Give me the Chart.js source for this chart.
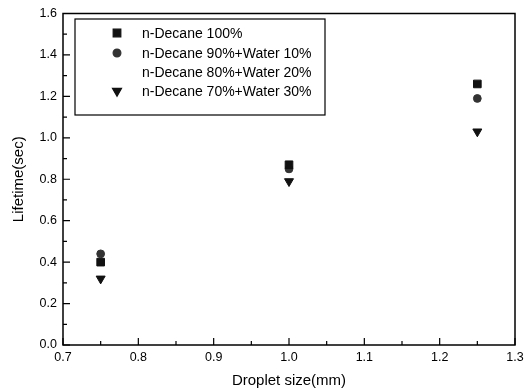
<!DOCTYPE html>
<html>
<head>
<meta charset="utf-8">
<script src="https://cdn.jsdelivr.net/npm/chart.js@4.4.0/dist/chart.umd.min.js"></script>
<style>
html,body{margin:0;padding:0;background:#fff;}
#wrap{width:532px;height:390px;position:relative;}
</style>
</head>
<body>
<div id="wrap"><canvas id="c" width="532" height="390"></canvas></div>
<script>
const dropletSizes = [0.75, 1.0, 1.25];
const decane100 = [0.40, 0.87, 1.26];
const decane90 = [0.44, 0.85, 1.19];
const decane80 = [null, null, null];
const decane70 = [0.32, 0.79, 1.03];
const seriesNames = ['n-Decane 100%', 'n-Decane 90%+Water 10%', 'n-Decane 80%+Water 20%', 'n-Decane 70%+Water 30%'];
const xTicks = [0.7, 0.8, 0.9, 1.0, 1.1, 1.2, 1.3];
const yTicks = [0.0, 0.2, 0.4, 0.6, 0.8, 1.0, 1.2, 1.4, 1.6];

const FONT = '"Liberation Sans", Arial, sans-serif';
const toPts = arr => dropletSizes.map((x, i) => ({x: x, y: arr[i]})).filter(p => p.y !== null);

const styles = [
  {pointStyle: 'rect', radius: 5.4, rotation: 0, color: '#111'},
  {pointStyle: 'circle', radius: 3.9, rotation: 0, color: '#333'},
  {pointStyle: false, radius: 0, rotation: 0, color: 'rgba(0,0,0,0)'},
  {pointStyle: 'triangle', radius: 5.2, rotation: 180, color: '#111'}
];
const allData = [decane100, decane90, decane80, decane70];

const frameTicks = {
  id: 'frameTicks',
  afterDraw(chart) {
    const ctx = chart.ctx, a = chart.chartArea;
    const xs = chart.scales.x, ys = chart.scales.y;
    ctx.save();
    ctx.strokeStyle = '#000';
    ctx.lineWidth = 1.5;
    ctx.strokeRect(a.left, a.top, a.right - a.left, a.bottom - a.top);
    ctx.lineWidth = 1.2;
    ctx.beginPath();
    for (let i = 0; i < xTicks.length; i++) {
      const px = xs.getPixelForValue(xTicks[i]);
      ctx.moveTo(px, a.bottom); ctx.lineTo(px, a.bottom - 7);
      if (i < xTicks.length - 1) {
        const mx = xs.getPixelForValue((xTicks[i] + xTicks[i + 1]) / 2);
        ctx.moveTo(mx, a.bottom); ctx.lineTo(mx, a.bottom - 4);
      }
    }
    for (let i = 0; i < yTicks.length; i++) {
      const py = ys.getPixelForValue(yTicks[i]);
      ctx.moveTo(a.left, py); ctx.lineTo(a.left + 7, py);
      if (i < yTicks.length - 1) {
        const my = ys.getPixelForValue((yTicks[i] + yTicks[i + 1]) / 2);
        ctx.moveTo(a.left, my); ctx.lineTo(a.left + 4, my);
      }
    }
    ctx.stroke();

    // legend box
    const bx = 75, by = 19, bw = 250, bh = 96;
    ctx.lineWidth = 1.2;
    ctx.strokeRect(bx, by, bw, bh);
    ctx.font = '14px ' + FONT;
    ctx.fillStyle = '#000';
    ctx.textBaseline = 'middle';
    ctx.textAlign = 'left';
    const rows = [33, 53, 72, 91];
    for (let i = 0; i < seriesNames.length; i++) {
      const s = styles[i];
      if (s.pointStyle) {
        ctx.fillStyle = s.color;
        ctx.strokeStyle = s.color;
        Chart.helpers.drawPoint(ctx, {pointStyle: s.pointStyle, radius: s.radius, rotation: s.rotation, borderWidth: 1}, 117, rows[i]);
      }
      ctx.fillStyle = '#000';
      ctx.fillText(seriesNames[i], 142, rows[i] + 1);
    }
    ctx.restore();
  }
};

new Chart(document.getElementById('c'), {
  type: 'scatter',
  data: {
    datasets: allData.map((arr, i) => ({
      label: seriesNames[i],
      data: toPts(arr),
      pointStyle: styles[i].pointStyle,
      pointRadius: styles[i].radius,
      pointRotation: styles[i].rotation,
      backgroundColor: styles[i].color,
      borderColor: styles[i].color,
      borderWidth: 1,
      showLine: false
    }))
  },
  options: {
    responsive: false,
    animation: false,
    layout: {padding: {top: 8, right: 17, left: 10, bottom: 0}},
    plugins: {legend: {display: false}, tooltip: {enabled: false}},
    scales: {
      x: {
        type: 'linear', min: 0.7, max: 1.3,
        afterBuildTicks: s => { s.ticks = xTicks.map(v => ({value: v})); },
        afterFit: s => { s.height = 45; },
        grid: {display: false, drawTicks: false},
        border: {display: false},
        ticks: {color: '#000', font: {family: FONT, size: 12.5}, padding: 5, maxRotation: 0,
          callback: v => Number(v).toFixed(1)},
        title: {display: true, text: 'Droplet size(mm)', color: '#000', font: {family: FONT, size: 15}, padding: {top: 2, bottom: 0}}
      },
      y: {
        type: 'linear', min: 0, max: 1.6,
        afterBuildTicks: s => { s.ticks = yTicks.map(v => ({value: v})); },
        afterFit: s => { s.width = 53; },
        grid: {display: false, drawTicks: false},
        border: {display: false},
        ticks: {color: '#000', font: {family: FONT, size: 12.5}, padding: 6,
          callback: v => Number(v).toFixed(1)},
        title: {display: true, text: 'Lifetime(sec)', color: '#000', font: {family: FONT, size: 15}, padding: {top: 0, bottom: 4}}
      }
    }
  },
  plugins: [frameTicks]
});
</script>
</body>
</html>
